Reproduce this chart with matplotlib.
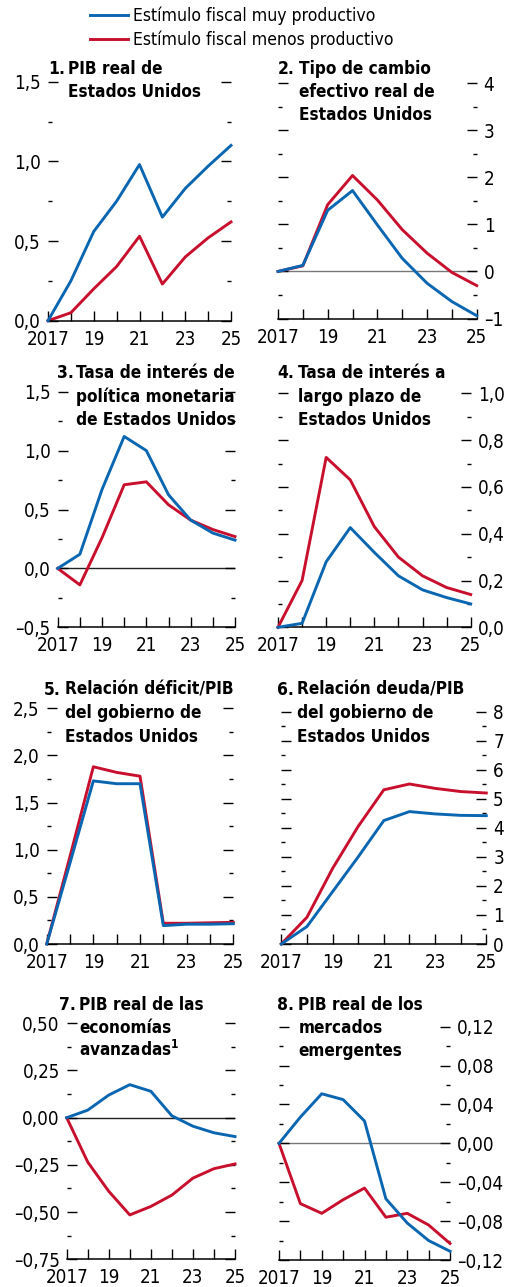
import matplotlib
matplotlib.use("Agg")
from matplotlib import pyplot as plt
from matplotlib import font_manager
from matplotlib.ticker import MultipleLocator, FuncFormatter

# narrow sans if one is installed, else plain Liberation Sans
ttf = font_manager.fontManager.ttflist
names = {f.name for f in ttf}
if 'Liberation Sans Narrow' in names:
    FAMILY, STRETCH = 'Liberation Sans Narrow', 'normal'
elif any(f.name == 'DejaVu Sans' and f.stretch == 'condensed' for f in ttf):
    FAMILY, STRETCH = 'DejaVu Sans', 'condensed'
else:
    FAMILY, STRETCH = 'Liberation Sans', 'normal'

plt.rcParams['font.family'] = [FAMILY, 'DejaVu Sans']
plt.rcParams['font.stretch'] = STRETCH
plt.rcParams['mathtext.fontset'] = 'custom'
plt.rcParams['mathtext.bf'] = FAMILY + ':bold'

W, H = 508, 1287
BLUE = '#0b66b2'
RED = '#c8102e'

years = [2017, 2018, 2019, 2020, 2021, 2022, 2023, 2024, 2025]
year_labels = ['2017', '', '19', '', '21', '', '23', '', '25']

pib_eeuu_muy = [0, 0.25, 0.56, 0.75, 0.98, 0.65, 0.83, 0.97, 1.10]
pib_eeuu_menos = [0, 0.05, 0.20, 0.34, 0.53, 0.23, 0.40, 0.52, 0.62]
tcer_muy = [0, 0.13, 1.30, 1.72, 0.99, 0.28, -0.25, -0.64, -0.94]
tcer_menos = [0, 0.12, 1.42, 2.04, 1.52, 0.89, 0.39, -0.02, -0.30]
tasa_pm_muy = [0, 0.12, 0.67, 1.12, 1.00, 0.625, 0.41, 0.30, 0.24]
tasa_pm_menos = [0, -0.14, 0.26, 0.71, 0.735, 0.54, 0.41, 0.33, 0.27]
tasa_lp_muy = [0, 0.017, 0.28, 0.426, 0.32, 0.22, 0.16, 0.127, 0.10]
tasa_lp_menos = [0, 0.20, 0.726, 0.63, 0.43, 0.30, 0.22, 0.17, 0.14]
deficit_muy = [0, 0.86, 1.73, 1.70, 1.70, 0.195, 0.21, 0.21, 0.215]
deficit_menos = [0, 0.93, 1.88, 1.82, 1.78, 0.22, 0.22, 0.225, 0.23]
deuda_muy = [0, 0.6, 1.8, 3.0, 4.25, 4.56, 4.48, 4.43, 4.42]
deuda_menos = [0, 0.92, 2.6, 4.05, 5.31, 5.51, 5.36, 5.25, 5.20]
pib_ea_muy = [0, 0.04, 0.12, 0.175, 0.14, 0.01, -0.045, -0.08, -0.10]
pib_ea_menos = [0, -0.235, -0.39, -0.515, -0.47, -0.41, -0.32, -0.27, -0.245]
pib_me_muy = [0, 0.027, 0.051, 0.045, 0.023, -0.057, -0.082, -0.10, -0.111]
pib_me_menos = [0, -0.062, -0.072, -0.058, -0.046, -0.076, -0.072, -0.084, -0.103]

# (number, title lines, muy, menos, ylim, major, minor, decimals, label side,
#  axes box in px (left, top, right, bottom), number x, title x, first baseline, zero line colour)
panels = [
    ('1.', ['PIB real de', 'Estados Unidos'], pib_eeuu_muy, pib_eeuu_menos,
     (0, 1.5), 0.5, 0.25, 1, 'left', (48, 81.7, 231, 320.7), 48, 68, 73.5, None),
    ('2.', ['Tipo de cambio', 'efectivo real de', 'Estados Unidos'], tcer_muy, tcer_menos,
     (-1, 4), 1, 0.5, 0, 'right', (278, 83.3, 476.7, 318.5), 278, 299, 73.5, '#777777'),
    ('3.', ['Tasa de interés de', 'política monetaria', 'de Estados Unidos'], tasa_pm_muy, tasa_pm_menos,
     (-0.5, 1.5), 0.5, 0.25, 1, 'left', (57.7, 391.7, 235, 627.3), 56.7, 76, 378.5, '#222222'),
    ('4.', ['Tasa de interés a', 'largo plazo de', 'Estados Unidos'], tasa_lp_muy, tasa_lp_menos,
     (0, 1.0), 0.2, 0.1, 1, 'right', (278, 393.3, 470.7, 627.3), 277.3, 298.3, 378.5, None),
    ('5.', ['Relación déficit/PIB', 'del gobierno de', 'Estados Unidos'], deficit_muy, deficit_menos,
     (0, 2.5), 0.5, 0.25, 1, 'left', (46.7, 708.3, 233.3, 944), 44.3, 65, 695, None),
    ('6.', ['Relación deuda/PIB', 'del gobierno de', 'Estados Unidos'], deuda_muy, deuda_menos,
     (0, 8), 1, 0.5, 0, 'right', (281.3, 711.7, 486.3, 944), 276.7, 297.3, 695, None),
    ('7.', ['PIB real de las', 'economías', r'avanzadas$^{\mathbf{1}}$'], pib_ea_muy, pib_ea_menos,
     (-0.75, 0.5), 0.25, 0.125, 2, 'left', (66.7, 1023.3, 235, 1259.3), 59.3, 79.3, 1009.5, '#222222'),
    ('8.', ['PIB real de los', 'mercados', 'emergentes'], pib_me_muy, pib_me_menos,
     (-0.12, 0.12), 0.04, 0.02, 2, 'right', (279, 1026.7, 450, 1260), 277.3, 298.3, 1009.5, '#777777'),
]


def fmt(decimals):
    def f(v, pos):
        s = f'{v:.{decimals}f}'
        if float(s) == 0:
            s = s.lstrip('-')
        return s.replace('.', ',').replace('-', '–')
    return FuncFormatter(f)


fig = plt.figure(figsize=(W / 100, H / 100), dpi=100)

for (num, lines, muy, menos, ylim, major, minor, dec, side, box,
     num_x, body_x, base_y, zero_col) in panels:
    l, t, r, b = box
    ax = fig.add_axes([l / W, 1 - b / H, (r - l) / W, (b - t) / H])
    ax.set_xlim(2017, 2025)
    ax.set_ylim(*ylim)
    if zero_col:
        ax.axhline(0, color=zero_col, lw=1.0, zorder=1)
    ax.plot(years, muy, color=BLUE, lw=2.1, clip_on=False, zorder=3)
    ax.plot(years, menos, color=RED, lw=2.1, clip_on=False, zorder=2)

    for s in ['top', 'left', 'right']:
        ax.spines[s].set_visible(False)
    ax.spines['bottom'].set_linewidth(1.1)

    ax.set_xticks(years)
    ax.set_xticklabels(year_labels)
    ax.tick_params(axis='x', direction='in', length=7, width=1.0, pad=6.5, labelsize=13.5)

    ax.yaxis.set_major_locator(MultipleLocator(major))
    ax.yaxis.set_minor_locator(MultipleLocator(minor))
    ax.yaxis.set_major_formatter(fmt(dec))
    ax.tick_params(axis='y', which='both', direction='in', left=True, right=True,
                   labelleft=(side == 'left'), labelright=(side == 'right'),
                   labelsize=13.5, pad=5)
    ax.tick_params(axis='y', which='major', length=7, width=1.0)
    ax.tick_params(axis='y', which='minor', length=3, width=1.0)

    fig.text(num_x / W, 1 - base_y / H, num, fontsize=12.5, fontweight='bold',
             va='baseline', ha='left')
    for i, line in enumerate(lines):
        fig.text(body_x / W, 1 - (base_y + 23.3 * i) / H, line, fontsize=12.3,
                 fontweight='bold', va='baseline', ha='left')

# legend at the top
legend = [(BLUE, 'Estímulo fiscal muy productivo', 15),
          (RED, 'Estímulo fiscal menos productivo', 39)]
for col, label, y in legend:
    fig.add_artist(plt.Line2D([90 / W, 128 / W], [1 - y / H, 1 - y / H], color=col, lw=2.1))
    fig.text(133 / W, 1 - (y + 6) / H, label, fontsize=12.6, va='baseline', ha='left')

fig.savefig('out.png', dpi=100)
